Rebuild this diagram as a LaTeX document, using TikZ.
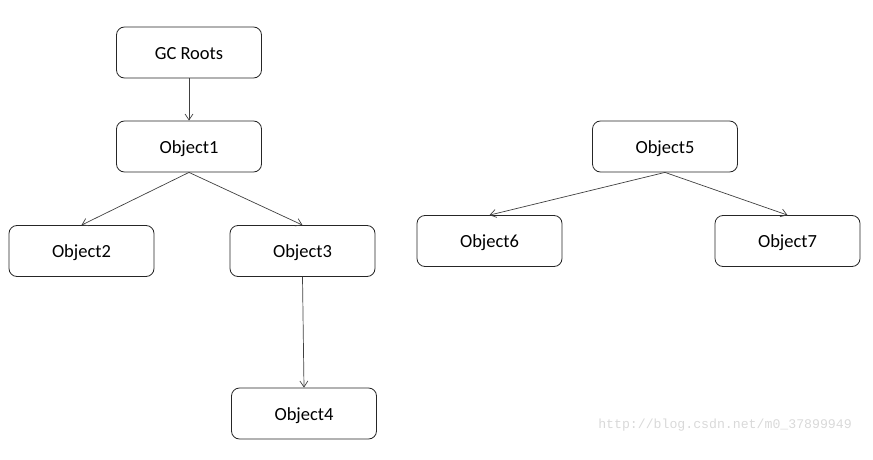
\documentclass[tikz,border=0pt]{standalone}
\usepackage{fontspec}
\setmainfont{Carlito}
\newfontfamily\wmfont{Liberation Mono}
\usetikzlibrary{arrows.meta}
\begin{document}
\begin{tikzpicture}[x=1pt,y=-1pt,
  box/.style={draw=black!85,line width=0.8pt,rounded corners=8pt,minimum width=145pt,minimum height=51pt,inner sep=0pt,text height=14pt,text depth=0.5pt,font=\fontsize{18.5}{22}\selectfont},
  conn/.style={draw=black!75,line width=0.7pt,-{Straight Barb[length=6pt,width=8pt]}}]
\useasboundingbox (0,0) rectangle (873,460);
\node[box] (gc) at (189,52.5) {GC Roots};
\node[box] (o1) at (189,146.5) {Object1};
\node[box] (o2) at (81.5,251) {Object2};
\node[box] (o3) at (302.5,251) {Object3};
\node[box] (o4) at (304,413.5) {Object4};
\node[box] (o5) at (665,146.5) {Object5};
\node[box] (o6) at (489.5,241) {Object6};
\node[box] (o7) at (787.5,241) {Object7};
\draw[conn] (gc.south) -- (o1.north);
\draw[conn] (o1.south) -- (o2.north);
\draw[conn] (o1.south) -- (o3.north);
\draw[conn] (o3.south) -- (o4.north);
\draw[conn] (o5.south) -- (o6.north);
\draw[conn] (o5.south) -- (o7.north);
\node[text=black!15,font=\wmfont\fontsize{13.2}{15}\selectfont,inner sep=0pt] (wm) at (725,425) {http://blog.csdn.net/m0\_37899949};
\end{tikzpicture}
\end{document}
